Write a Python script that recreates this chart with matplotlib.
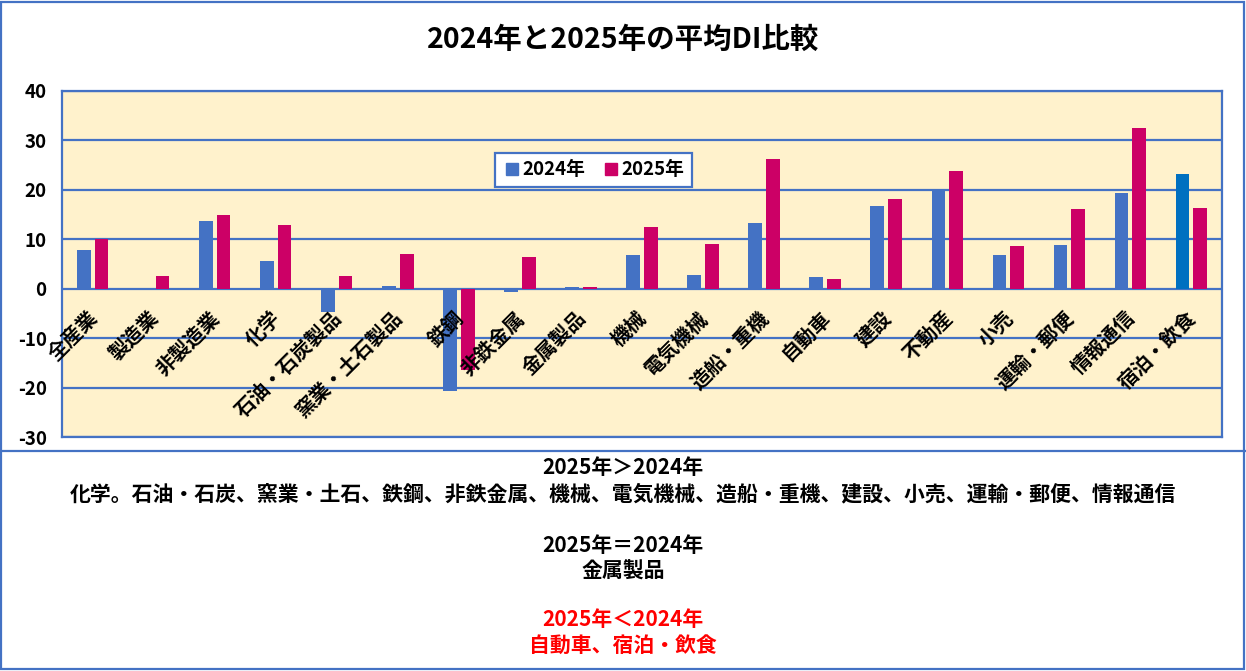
import matplotlib
matplotlib.use('Agg')
import matplotlib.pyplot as plt
from matplotlib.lines import Line2D
from matplotlib.patches import Rectangle
import numpy as np

plt.rcParams['font.family'] = ['Noto Sans CJK JP', 'DejaVu Sans']

categories = ['全産業', '製造業', '非製造業', '化学', '石油・石炭製品', '窯業・土石製品',
              '鉄鋼', '非鉄金属', '金属製品', '機械', '電気機械', '造船・重機', '自動車',
              '建設', '不動産', '小売', '運輸・郵便', '情報通信', '宿泊・飲食']
di_2024 = [7.9, 0.0, 13.8, 5.7, -4.8, 0.5, -20.6, -0.7, 0.3, 6.9, 2.7, 13.2, 2.3,
           16.8, 20.1, 6.9, 8.9, 19.4, 23.2]
di_2025 = [10.1, 2.5, 15.0, 12.8, 2.5, 7.1, -16.4, 6.5, 0.3, 12.4, 9.1, 26.3, 1.9,
           18.2, 23.8, 8.7, 16.2, 32.5, 16.4]
yticks = [-30, -20, -10, 0, 10, 20, 30, 40]

title = '2024年と2025年の平均DI比較'
note_lines = [
    ('2025年＞2024年', 'black'),
    ('化学。石油・石炭、窯業・土石、鉄鋼、非鉄金属、機械、電気機械、造船・重機、建設、小売、運輸・郵便、情報通信', 'black'),
    ('2025年＝2024年', 'black'),
    ('金属製品', 'black'),
    ('2025年＜2024年', '#FF0000'),
    ('自動車、宿泊・飲食', '#FF0000'),
]

BLUE = '#4472C4'
PINK = '#CC0066'
BLUE_LAST = '#0070C0'
W, H = 1246, 671

fig = plt.figure(figsize=(W / 100, H / 100), dpi=100)
ax = fig.add_axes([62 / W, 1 - 437 / H, (1222 - 62) / W, (437 - 91) / H])
ax.set_facecolor('#FFF2CC')

x = np.arange(len(categories))
bw = 0.225
c24 = [BLUE] * (len(categories) - 1) + [BLUE_LAST]
ax.bar(x - 0.145, di_2024, bw, color=c24, zorder=3)
ax.bar(x + 0.145, di_2025, bw, color=PINK, zorder=3)

ax.set_xlim(-0.5, len(categories) - 0.5)
ax.set_ylim(-30, 40)
ax.set_yticks(yticks)
ax.set_yticklabels([str(v) for v in yticks], fontsize=13.5, fontweight='bold')
ax.set_xticks([])
ax.tick_params(axis='y', length=0, pad=11)
for v in yticks:
    ax.axhline(v, color=BLUE, lw=1.6, zorder=2)
for s in ax.spines.values():
    s.set_color(BLUE)
    s.set_linewidth(1.6)

# category labels sit just under the zero line
for i, lab in enumerate(categories):
    ax.text(i - 0.10, -3.7, lab, rotation=45, ha='right', va='top',
            rotation_mode='anchor', fontsize=14.5, fontweight='bold', zorder=5)

handles = [Line2D([], [], marker='s', ls='', color=BLUE, markersize=9),
           Line2D([], [], marker='s', ls='', color=PINK, markersize=9)]
leg = ax.legend(handles, ['2024年', '2025年'], loc='center',
                bbox_to_anchor=(0.458, 0.772), ncol=2,
                prop={'weight': 'bold', 'size': 13.5}, fancybox=False,
                handletextpad=0.05, columnspacing=0.9, borderpad=0.4,
                handlelength=1.0)
leg.get_frame().set_edgecolor(BLUE)
leg.get_frame().set_linewidth(1.6)
leg.get_frame().set_facecolor('white')
leg.get_frame().set_alpha(1)

fig.text(0.5, 1 - 40 / H, title, ha='center', va='center', fontsize=20.5, fontweight='bold')

ys = [468, 494, 546, 571, 620, 645]
for (txt, col), yy in zip(note_lines, ys):
    fig.text(0.5, 1 - yy / H, txt, ha='center', va='center', fontsize=15,
             fontweight='bold', color=col)

fig.add_artist(Rectangle((1 / W, 2 / H), (W - 3) / W, (H - 4) / H, transform=fig.transFigure,
                         fill=False, edgecolor=BLUE, lw=1.6))
fig.add_artist(Line2D([0, 1], [1 - 451 / H, 1 - 451 / H], transform=fig.transFigure,
                      color=BLUE, lw=1.6))

fig.savefig('out.png', dpi=100)
